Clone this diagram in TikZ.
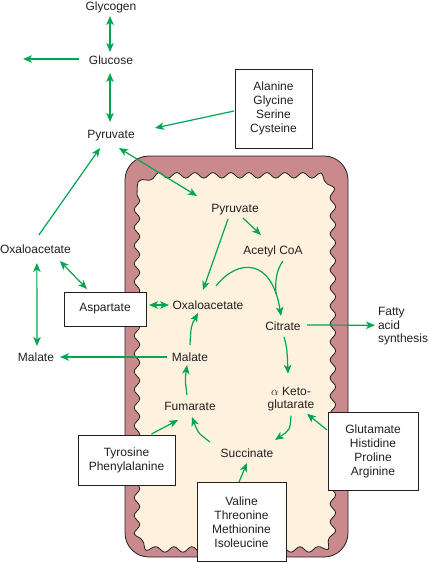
\documentclass[tikz,border=0pt]{standalone}
\usepackage{fontspec}
\setmainfont{Liberation Sans}
\usetikzlibrary{arrows.meta,decorations.pathmorphing}
\definecolor{grn}{RGB}{0,166,81}
\definecolor{rose}{RGB}{201,137,141}
\definecolor{cream}{RGB}{254,242,222}
\definecolor{ink}{RGB}{35,31,32}
\begin{document}
\begin{tikzpicture}[x=1pt,y=-1pt,
  lbl/.style={inner sep=0pt,outer sep=0pt,text height=8.6pt,text depth=0pt,font=\fontsize{12}{14}\selectfont,text=ink},
  mlbl/.style={inner sep=0pt,outer sep=0pt,text=ink},
  abox/.style={draw=ink,line width=1pt,fill=white,inner sep=0pt,align=center,font=\fontsize{12}{14}\selectfont,text=ink},
  tipa/.tip={Stealth[length=9pt,width=7.5pt,inset=2.5pt]},
  conn/.style={draw=grn,line width=1.2pt,-tipa},
  dconn/.style={draw=grn,line width=1.2pt,tipa-tipa},
  plainline/.style={draw=grn,line width=1.2pt}]
\useasboundingbox (0,0) rectangle (429,562);
% mitochondrion
\path[fill=rose,draw=ink,line width=0.8pt,rounded corners=24pt] (125,156) rectangle (348,557);
\path[fill=cream,draw=ink,line width=0.8pt,decorate,decoration={snake,amplitude=2.8pt,segment length=18pt}]
  (137,195) -- (137,525) .. controls (137,540) and (145,545) .. (160,545) -- (316,545)
  .. controls (328,545) and (333,538) .. (333,525) -- (333,195)
  .. controls (333,180) and (328,171) .. (315,171) -- (160,171)
  .. controls (145,171) and (137,180) .. (137,195) -- cycle;
% labels
\node[lbl] (glycogen) at (111,6) {Glycogen};
\node[lbl] (glucose) at (111,60) {Glucose};
\node[lbl] (pyro) at (111,134) {Pyruvate};
\node[abox,minimum width=77pt,minimum height=79pt] (ala) at (273.5,108.5) {Alanine\\Glycine\\Serine\\Cysteine};
\node[lbl] (pyri) at (235,208) {Pyruvate};
\node[lbl] (acoa) at (273,250) {Acetyl CoA};
\node[lbl,anchor=west] (oxo) at (0,249) {Oxaloacetate};
\node[lbl] (oxi) at (208,305) {Oxaloacetate};
\node[abox,minimum width=82pt,minimum height=34pt] (asp) at (105,309) {Aspartate};
\node[lbl] (malo) at (36,357) {Malate};
\node[lbl] (mali) at (190,357) {Malate};
\node[lbl] (cit) at (283,326) {Citrate};
\node[mlbl,align=left,anchor=west,font=\fontsize{12}{13.5}\selectfont] (fas) at (378,326.25) {Fatty\\acid\\synthesis};
\node[mlbl,align=center,font=\fontsize{12}{13}\selectfont] (akg) at (291,398.75) {$\alpha$ Keto-\\glutarate};
\node[lbl] (succ) at (247,453) {Succinate};
\node[lbl] (fum) at (190,406) {Fumarate};
\node[abox,minimum width=97pt,minimum height=50pt] (tyr) at (126.5,460) {Tyrosine\\Phenylalanine};
\node[abox,minimum width=89pt,minimum height=79pt] (val) at (241.5,522) {Valine\\Threonine\\Methionine\\Isoleucine};
\node[abox,minimum width=90pt,minimum height=78pt] (glu) at (373,451) {Glutamate\\Histidine\\Proline\\Arginine};
\coordinate (gleft) at (23,59);
\coordinate (join) at (276,294);
% connectors
\draw[dconn] ([shift={(-1,10)}]glycogen.center) -- ([shift={(-1,-8)}]glucose.center);
\draw[conn] ([shift={(-32,-1)}]glucose.center) -- (gleft);
\draw[dconn] ([shift={(-1,13)}]glucose.center) -- ([shift={(-1,-12)}]pyro.center);
\draw[conn] ([shift={(-39.5,2.5)}]ala.center) -- ([shift={(44,-6)}]pyro.center);
\draw[dconn] ([shift={(8,14)}]pyro.center) -- ([shift={(-38,-12)}]pyri.center);
\draw[conn] ([shift={(3.5,-14)}]oxo.center) -- ([shift={(-11,14)}]pyro.center);
\draw[conn] ([shift={(8,10)}]pyri.center) -- ([shift={(-12,-15)}]acoa.center);
\draw[conn] ([shift={(-7,11)}]pyri.center) -- ([shift={(-5,-15)}]oxi.center);
\draw[dconn] ([shift={(44,-4)}]asp.center) -- ([shift={(-39,0)}]oxi.center);
\draw[dconn] ([shift={(24.5,12)}]oxo.center) -- ([shift={(-18,-20)}]asp.center);
\draw[dconn] ([shift={(1.5,14)}]oxo.center) -- ([shift={(1,-11)}]malo.center);
\draw[conn] ([shift={(-23,0)}]mali.center) -- ([shift={(24,0)}]malo.center);
\draw[conn] ([shift={(0,-12)}]mali.center) .. controls (191,326) .. ([shift={(-10,8)}]oxi.center);
\draw[conn] ([shift={(8,-19)}]oxi.center) .. controls (238,258) and (272,258) .. ([shift={(-2,-10)}]cit.center);
\draw[plainline] ([shift={(10,11)}]acoa.center) .. controls (276,270) and (275,283) .. (join);
\draw[conn] ([shift={(24,-1)}]cit.center) -- ([shift={(-3,-1)}]fas.west);
\draw[conn] ([shift={(1,11)}]cit.center) .. controls (287,348) .. ([shift={(-3,-25)}]akg.center);
\draw[conn] ([shift={(0,17)}]akg.center) .. controls (290,430) .. ([shift={(28,-13)}]succ.center);
\draw[conn] ([shift={(-37,-11)}]succ.center) .. controls (198,433) .. ([shift={(2,11)}]fum.center);
\draw[conn] ([shift={(-3,-11)}]fum.center) .. controls (185,380) .. ([shift={(-3,8)}]mali.center);
\draw[conn] ([shift={(25,-26)}]tyr.center) -- ([shift={(-12,14)}]fum.center);
\draw[conn] ([shift={(-2.5,-40)}]val.center) -- ([shift={(0,10)}]succ.center);
\draw[conn] ([shift={(-46,-21)}]glu.center) -- ([shift={(16,15)}]akg.center);
\end{tikzpicture}
\end{document}
